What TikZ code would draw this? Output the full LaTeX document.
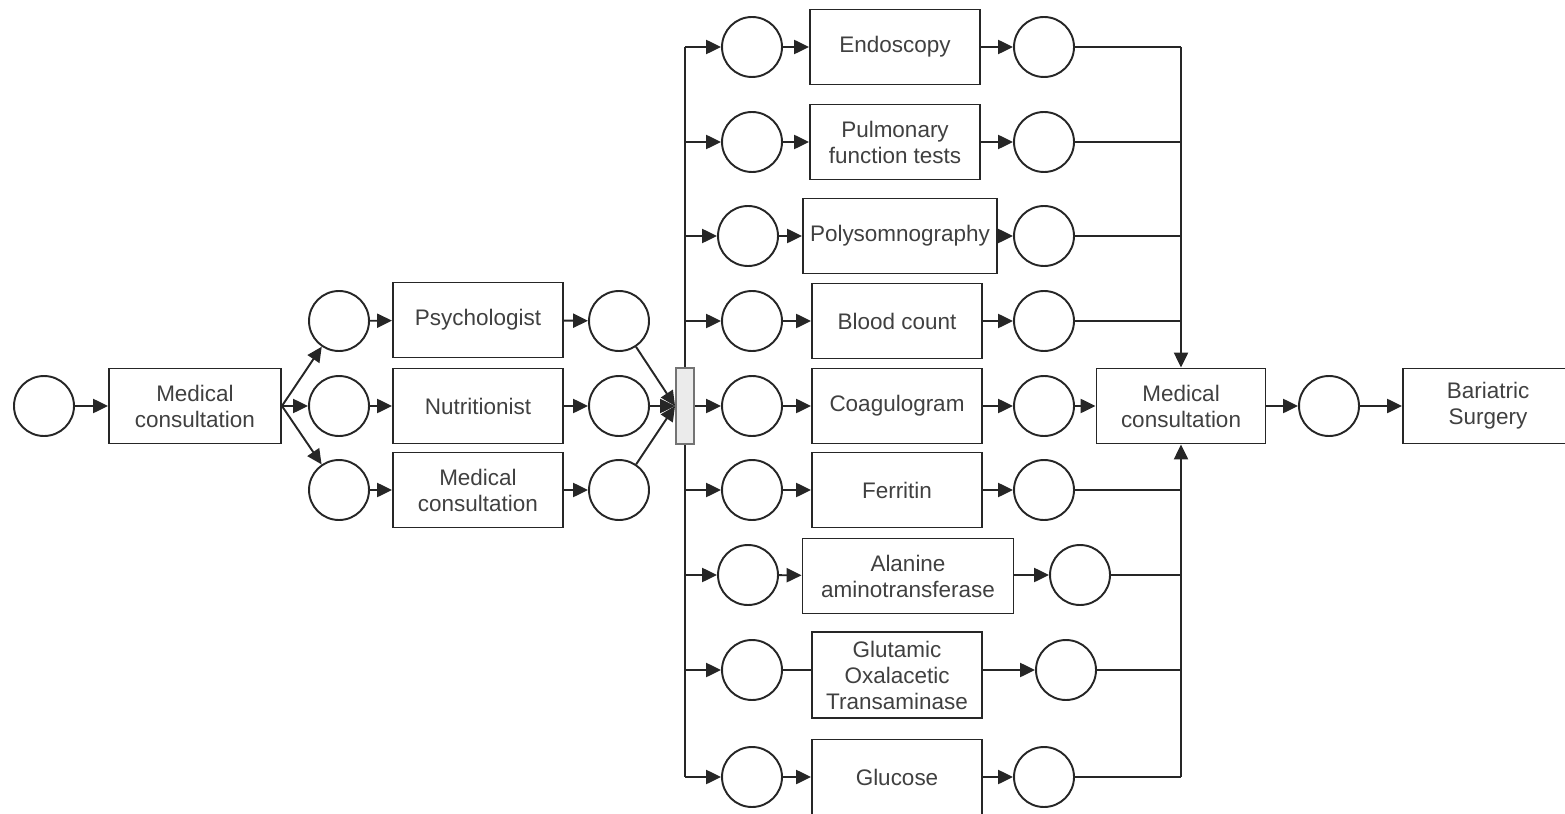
\documentclass[tikz,border=0pt]{standalone}
\usepackage{fontspec}
\setmainfont{Liberation Sans}
\usetikzlibrary{arrows.meta}

\begin{document}
\begin{tikzpicture}[x=0.02cm, y=-0.02cm, line width=1.1pt, color=black!85,
  every node/.style={font=\fontsize{12.8}{14.8}\selectfont, text=black!75},
  pl/.style={circle, draw, minimum size=1.2cm, inner sep=0pt},
  tr/.style={rectangle, draw, minimum width=3.4cm, minimum height=1.5cm, align=center, inner sep=1pt},
  arr/.style={-{Triangle[length=8.5pt,width=8pt]}}]
\useasboundingbox (0,0) rectangle (1565,814);
% Start
\node[pl] (p0) at (44,406) {};
\node[tr, minimum width=3.44cm] (mc1) at (195,406) {Medical\\consultation};
% Consultations
\node[pl] (p1) at (339,321) {};
\node[pl] (p2) at (339,406) {};
\node[pl] (p3) at (339,490) {};
\node[tr] (psy) at (478,320) {Psychologist};
\node[tr] (nut) at (478,406) {Nutritionist};
\node[tr] (mc3) at (478,490) {Medical\\consultation};
\node[pl] (q1) at (619,321) {};
\node[pl] (q2) at (619,406) {};
\node[pl] (q3) at (619,490) {};
% Fork
\coordinate (ltop) at (685,47);
\coordinate (lbot) at (685,777);
\draw (ltop) -- (lbot);
\node[draw=black!55, fill=black!8, minimum width=0.36cm, minimum height=1.52cm, inner sep=0pt] (bar) at (685,406) {};
% Exams
\node[pl] (a1) at (752,47) {};
\node[pl] (a2) at (752,142) {};
\node[pl] (a3) at (748,236) {};
\node[pl] (a4) at (752,321) {};
\node[pl] (a5) at (752,406) {};
\node[pl] (a6) at (752,490) {};
\node[pl] (a7) at (748,575) {};
\node[pl] (a8) at (752,670) {};
\node[pl] (a9) at (752,777) {};
\node[tr] (endo) at (895,47) {Endoscopy};
\node[tr] (pulm) at (895,142) {Pulmonary\\function tests};
\node[tr, minimum width=3.88cm] (poly) at (900,236) {Polysomnography};
\node[tr] (blood) at (897,321) {Blood count};
\node[tr] (coag) at (897,406) {Coagulogram};
\node[tr] (ferr) at (897,490) {Ferritin};
\node[tr, minimum width=4.22cm] (alt) at (908,576) {Alanine\\aminotransferase};
\node[tr, minimum height=1.72cm] (got) at (897,675) {Glutamic\\Oxalacetic\\Transaminase};
\node[tr] (gluc) at (897,777) {Glucose};
\node[pl] (b1) at (1044,47) {};
\node[pl] (b2) at (1044,142) {};
\node[pl] (b3) at (1044,236) {};
\node[pl] (b4) at (1044,321) {};
\node[pl] (b5) at (1044,406) {};
\node[pl] (b6) at (1044,490) {};
\node[pl] (b7) at (1080,575) {};
\node[pl] (b8) at (1066,670) {};
\node[pl] (b9) at (1044,777) {};
% Join
\coordinate (rtop) at (1181,47);
\coordinate (rbot) at (1181,777);
\node[tr, minimum width=3.38cm] (mc2) at (1181,406) {Medical\\consultation};
\node[pl] (p10) at (1329,406) {};
\node[tr] (bs) at (1488,406) {Bariatric\\Surgery};
% Arrows
\draw[arr] (p0) -- (mc1);
\draw[arr] (mc1.east) -- (p1);
\draw[arr] (mc1.east) -- (p2);
\draw[arr] (mc1.east) -- (p3);
\draw[arr] (p1) -- (psy);
\draw[arr] (p2) -- (nut);
\draw[arr] (p3) -- (mc3);
\draw[arr] (psy) -- (q1);
\draw[arr] (nut) -- (q2);
\draw[arr] (mc3) -- (q3);
\draw[arr] (q1) -- (bar.west);
\draw[arr] (q2) -- (bar.west);
\draw[arr] (q3) -- (bar.west);
\draw[arr] (ltop |- a1) -- (a1);
\draw[arr] (ltop |- a2) -- (a2);
\draw[arr] (ltop |- a3) -- (a3);
\draw[arr] (ltop |- a4) -- (a4);
\draw[arr] (bar) -- (a5);
\draw[arr] (ltop |- a6) -- (a6);
\draw[arr] (ltop |- a7) -- (a7);
\draw[arr] (ltop |- a8) -- (a8);
\draw[arr] (ltop |- a9) -- (a9);
\draw[arr] (a1) -- (endo);
\draw[arr] (a2) -- (pulm);
\draw[arr] (a3) -- (poly);
\draw[arr] (a4) -- (blood);
\draw[arr] (a5) -- (coag);
\draw[arr] (a6) -- (ferr);
\draw[arr] (a7) -- (alt);
\draw (a8) -- (a8 -| got.west);
\draw[arr] (a9) -- (gluc);
\draw[arr] (endo) -- (b1);
\draw[arr] (pulm) -- (b2);
\draw[arr] (poly) -- (b3);
\draw[arr] (blood) -- (b4);
\draw[arr] (coag) -- (b5);
\draw[arr] (ferr) -- (b6);
\draw[arr] (alt.east |- b7) -- (b7);
\draw[arr] (got.east |- b8) -- (b8);
\draw[arr] (gluc) -- (b9);
\draw (b1) -- (rtop |- b1);
\draw (b2) -- (rtop |- b2);
\draw (b3) -- (rtop |- b3);
\draw (b4) -- (rtop |- b4);
\draw[arr] (b5) -- (mc2);
\draw (b6) -- (rtop |- b6);
\draw (b7) -- (rtop |- b7);
\draw (b8) -- (rtop |- b8);
\draw (b9) -- (rtop |- b9);
\draw[arr] (rtop) -- (mc2);
\draw[arr] (rbot) -- (mc2);
\draw[arr] (mc2) -- (p10);
\draw[arr] (p10) -- (bs);
\end{tikzpicture}
\end{document}
